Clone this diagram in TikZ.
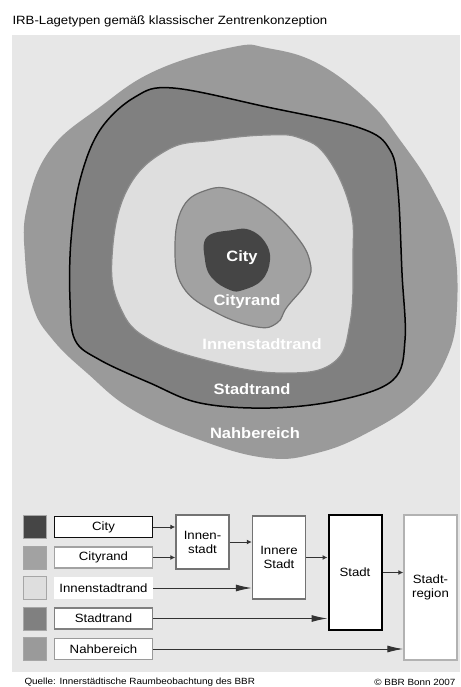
\documentclass[tikz,border=0pt]{standalone}
\usepackage{fontspec}
\setmainfont{Liberation Sans}[FakeStretch=1.1]
\usetikzlibrary{arrows.meta}
\definecolor{panel}{HTML}{E7E7E7}
\definecolor{cCity}{HTML}{454545}
\definecolor{cCityrand}{HTML}{A2A2A2}
\definecolor{cInnen}{HTML}{DEDEDE}
\definecolor{cStadtrand}{HTML}{808080}
\definecolor{cNah}{HTML}{9A9A9A}
\definecolor{cLine}{HTML}{333333}

\begin{document}
\begin{tikzpicture}[x=1pt,y=-1pt,
  every node/.style={font=\fontsize{12}{13}\selectfont},
  blobtxt/.style={text=white,font=\fontsize{15}{16}\selectfont\bfseries},
  swatch/.style={draw=gray!70,line width=0.8pt,minimum width=23pt,minimum height=23pt,inner sep=0pt},
  lbox/.style={fill=white,line width=1.6pt,minimum width=98pt,minimum height=21pt,inner sep=0pt},
  gbox/.style={fill=white,draw=gray!110,line width=1.4pt,minimum width=53pt,inner sep=0pt,align=center,font=\fontsize{12}{14}\selectfont},
  arr/.style={draw=cLine,line width=1pt,-{Latex[length=5pt,width=5pt]}},
  longarr/.style={draw=cLine,line width=1pt,-{Latex[length=16pt,width=7pt]}}]
\useasboundingbox (0,0) rectangle (460,687);
\node[anchor=west] (title) at (9,21) {IRB-Lagetypen gemäß klassischer Zentrenkonzeption};
\fill[panel] (12,35) rectangle (460,672);

% Ringe
\fill[cNah] plot[smooth cycle,tension=0.7] coordinates {(233,47) (267,48) (317,63) (367,100) (400,140) (433,190) (453,240) (457,307) (447,357) (417,400) (367,433) (317,453) (267,458) (200,440) (133,410) (87,373) (53,340) (33,307) (25,257) (27,207) (50,150) (100,107) (157,70)};
\filldraw[fill=cStadtrand,draw=black,line width=1.5pt] plot[smooth cycle,tension=0.6] coordinates {(173,88) (267,107) (360,128) (390,150) (398,190) (402,273) (405,340) (393,380) (340,400) (270,408) (200,403) (150,383) (100,360) (75,340) (70,300) (71,240) (80,180) (100,130) (135,97)};
\filldraw[fill=cInnen,draw=gray!90,line width=1.2pt] plot[smooth cycle,tension=0.7] coordinates {(267,135) (300,138) (327,157) (350,207) (353,257) (350,323) (333,363) (283,373) (217,363) (150,340) (120,307) (112,257) (127,190) (167,150) (215,140)};
\filldraw[fill=cCityrand,draw=gray!110,line width=1.2pt] plot[smooth cycle,tension=0.7] coordinates {(207,190) (233,190) (267,207) (297,237) (310,262) (307,282) (287,307) (277,323) (257,327) (217,313) (183,287) (175,247) (183,207)};
\fill[cCity] plot[smooth cycle,tension=0.7] coordinates {(207,237) (233,230) (250,230) (265,242) (270,260) (262,280) (243,290) (230,290) (212,278) (205,260)};

\node[blobtxt] (tCity) at (242,258) {City};
\node[blobtxt] (tCityrand) at (247,302) {Cityrand};
\node[blobtxt] (tInnen) at (262,344) {Innenstadtrand};
\node[blobtxt] (tStadtrand) at (252,389) {Stadtrand};
\node[blobtxt] (tNah) at (255,433) {Nahbereich};

% Legende
\node[swatch,fill=cCity] (sCity) at (34.5,527) {};
\node[swatch,fill=cCityrand] (sCityrand) at (34.5,557.5) {};
\node[swatch,fill=cInnen] (sInnen) at (34.5,588) {};
\node[swatch,fill=cStadtrand] (sStadtrand) at (34.5,618.5) {};
\node[swatch,fill=cNah] (sNah) at (34.5,649) {};

\node[lbox,draw=cCity!130] (city) at (103.5,527) {City};
\node[lbox,draw=cCityrand] (cityrand) at (103.5,557.5) {Cityrand};
\node[lbox,draw=white] (innenrand) at (103.5,588) {Innenstadtrand};
\node[lbox,draw=cStadtrand] (stadtrand) at (103.5,618.5) {Stadtrand};
\node[lbox,draw=cNah] (nah) at (103.5,649) {Nahbereich};

\node[gbox,minimum height=54pt] (innenstadt) at (202.5,542) {Innen-\\stadt};
\node[gbox,minimum height=83pt] (innere) at (279,557.5) {Innere\\Stadt};
\node[gbox,draw=black,line width=2pt,minimum height=115pt] (stadt) at (355,572.5) {Stadt};
\node[gbox,draw=gray!60,minimum height=145pt] (region) at (430.5,587.5) {Stadt-\\region};

\draw[arr] (city.east) -- (innenstadt.west |- city.east);
\draw[arr] (cityrand.east) -- (innenstadt.west |- cityrand.east);
\draw[arr] (innenstadt.east) -- (innere.west |- innenstadt.east);
\draw[longarr] (innenrand.east) -- (innere.west |- innenrand.east);
\draw[arr] (innere.east) -- (stadt.west |- innere.east);
\draw[longarr] (stadtrand.east) -- (stadt.west |- stadtrand.east);
\draw[arr] (stadt.east) -- (region.west |- stadt.east);
\draw[longarr] (nah.east) -- (region.west |- nah.east);

\node[anchor=west,font=\fontsize{9}{10}\selectfont] (quelle) at (21,682) {Quelle: Innerstädtische Raumbeobachtung des BBR};
\node[anchor=east,font=\fontsize{9}{10}\selectfont] (copy) at (459,682) {© BBR Bonn 2007};
\end{tikzpicture}
\end{document}
